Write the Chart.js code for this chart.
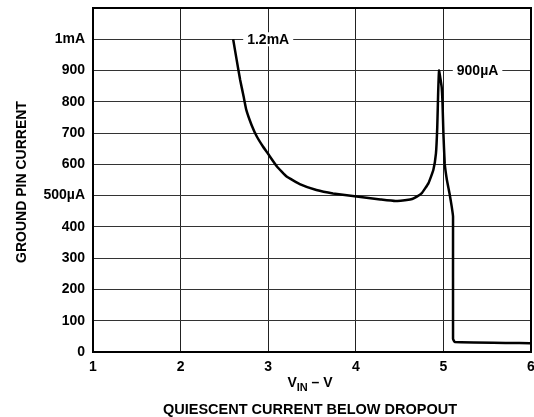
<!DOCTYPE html>
<html>
<head>
<meta charset="utf-8">
<script src="https://cdn.jsdelivr.net/npm/chart.js@4/dist/chart.umd.min.js"></script>
<style>
  body { margin: 0; background: #fff; }
  #wrap { width: 534px; height: 417px; }
</style>
</head>
<body>
<div id="wrap"><canvas id="chart" width="534" height="417"></canvas></div>
<script>
// Ground pin current (µA) vs VIN (V)
const vinValues = [
    2.60, 2.64, 2.68, 2.72, 2.75, 2.81, 2.87, 2.94, 3.00, 3.10, 3.21, 3.36, 3.55, 3.74,
    4.01, 4.28, 4.45, 4.62, 4.66, 4.75, 4.83, 4.885, 4.915, 4.93, 4.94, 4.95,
    4.98, 4.99, 5.00, 5.015, 5.04, 5.07, 5.095, 5.11, 5.11, 5.13, 6.00
];
const currentValues = [
    1000, 934, 870, 816, 774, 726, 689, 657, 633, 593, 561, 537, 518, 507,
    497, 488, 483, 488, 491, 507, 540, 582, 635, 720, 827, 900,
    848, 795, 699, 603, 550, 507, 465, 433, 42, 32, 28
];

const yTickLabels = { 500: '500µA', 1000: '1mA' };
const xTicks = [1, 2, 3, 4, 5, 6];

const notes = [
    { text: '1.2mA', x: 3.0, y: 1000 },
    { text: '900µA', x: 5.39, y: 900 }
];

const FONT = "'Liberation Sans', Arial, sans-serif";

const points = vinValues.map((v, i) => ({ x: v, y: currentValues[i] }));

const decorations = {
    id: 'decorations',
    afterDatasetsDraw(chart) {
        const { ctx, chartArea: a, scales } = chart;
        ctx.save();

        // labels sitting on the gridlines
        ctx.font = 'bold 14px ' + FONT;
        ctx.textAlign = 'center';
        ctx.textBaseline = 'middle';
        notes.forEach(n => {
            const px = scales.x.getPixelForValue(n.x);
            const py = scales.y.getPixelForValue(n.y);
            const w = ctx.measureText(n.text).width;
            ctx.fillStyle = '#fff';
            ctx.fillRect(px - w / 2 - 4, py - 7, w + 8, 14);
            ctx.fillStyle = '#000';
            ctx.fillText(n.text, px, py + 1);
        });

        // frame
        ctx.strokeStyle = '#000';
        ctx.lineWidth = 2;
        ctx.strokeRect(a.left, a.top, a.right - a.left, a.bottom - a.top);

        // y title
        ctx.fillStyle = '#000';
        ctx.save();
        ctx.translate(22, 182);
        ctx.rotate(-Math.PI / 2);
        ctx.fillText('GROUND PIN CURRENT', 0, 0);
        ctx.restore();

        // x title with subscript
        const cx = (a.left + a.right) / 2;
        const big = 'bold 14px ' + FONT, small = 'bold 11px ' + FONT;
        ctx.font = big; const wV = ctx.measureText('V').width;
        const wRest = ctx.measureText(' – V').width;
        ctx.font = small; const wIN = ctx.measureText('IN').width;
        let x0 = cx - (wV + wIN + wRest) / 2 - 2;
        ctx.textAlign = 'left';
        ctx.font = big; ctx.fillText('V', x0, 383);
        ctx.font = small; ctx.fillText('IN', x0 + wV, 388);
        ctx.font = big; ctx.fillText(' – V', x0 + wV + wIN, 383);

        ctx.textAlign = 'center';
        ctx.font = 'bold 14.5px ' + FONT;
        ctx.fillText('QUIESCENT CURRENT BELOW DROPOUT', cx - 2, 410);
        ctx.restore();
    }
};

new Chart(document.getElementById('chart'), {
    type: 'scatter',
    data: {
        datasets: [{
            data: points,
            showLine: true,
            borderColor: '#000',
            borderWidth: 2.5,
            pointRadius: 0,
            tension: 0.1,
            fill: false
        }]
    },
    options: {
        responsive: false,
        animation: false,
        layout: { padding: { top: 8, right: 3, left: 0, bottom: 0 } },
        plugins: { legend: { display: false }, tooltip: { enabled: false } },
        scales: {
            x: {
                type: 'linear',
                min: 1, max: 6,
                afterBuildTicks: s => { s.ticks = xTicks.map(v => ({ value: v })); },
                afterFit: s => { s.height = 65; s.paddingLeft = 0; s.paddingRight = 0; },
                grid: { color: '#222', lineWidth: 1, drawTicks: false },
                border: { display: false },
                ticks: {
                    color: '#000',
                    padding: 7,
                    font: { family: FONT, size: 14, weight: 'bold' }
                }
            },
            y: {
                min: 0, max: 1100,
                afterFit: s => { s.width = 93; s.paddingTop = 0; s.paddingBottom = 0; },
                grid: { color: '#333', lineWidth: 1, drawTicks: false },
                border: { display: false },
                ticks: {
                    stepSize: 100,
                    color: '#000',
                    padding: 8,
                    font: { family: FONT, size: 14, weight: 'bold' },
                    callback: v => v === 1100 ? '' : (yTickLabels[v] || String(v))
                }
            }
        }
    },
    plugins: [decorations]
});
</script>
</body>
</html>
